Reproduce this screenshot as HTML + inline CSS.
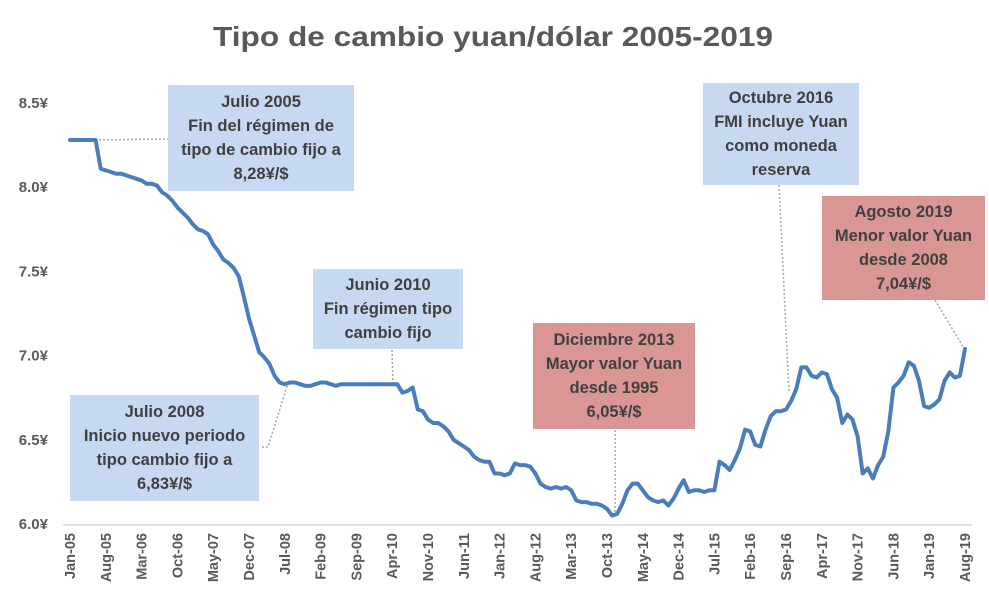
<!DOCTYPE html>
<html><head><meta charset="utf-8">
<style>
html,body{margin:0;padding:0;background:#fff;}
body{width:989px;height:614px;overflow:hidden;font-family:"Liberation Sans",sans-serif;}
.box{position:absolute;text-align:center;font-weight:bold;color:#404040;font-size:16.5px;line-height:24px;display:flex;flex-direction:column;justify-content:center;}
.blue{background:#c6d9f0;}
.red{background:#d99694;}
</style></head>
<body>
<svg id="chart" width="989" height="614" style="position:absolute;left:0;top:0">
<text x="493" y="46" text-anchor="middle" font-size="28" font-weight="bold" fill="#595959" textLength="560" lengthAdjust="spacingAndGlyphs">Tipo de cambio yuan/dólar 2005-2019</text>
<g id="yaxis"></g>
<g id="xaxis"></g>
<g id="connectors" stroke="#a6a6a6" stroke-width="1.5" stroke-dasharray="2,2" fill="none">
<polyline points="95,140 168,139"/>
<polyline points="262,447 268,447 288,383"/>
<polyline points="392,350 393,385"/>
<polyline points="615,430 615,515"/>
<polyline points="779,185 789,392"/>
<polyline points="935,300 965,350"/>
</g>
<g id="series"></g>
</svg>

<div class="box blue" style="left:168px;top:85px;width:186px;height:106px"><div>Julio 2005</div><div>Fin del régimen de</div><div>tipo de cambio fijo a</div><div>8,28¥/$</div></div>
<div class="box blue" style="left:70px;top:395px;width:189px;height:106px"><div>Julio 2008</div><div>Inicio nuevo periodo</div><div>tipo cambio fijo a</div><div>6,83¥/$</div></div>
<div class="box blue" style="left:313px;top:269px;width:150px;height:80px"><div>Junio 2010</div><div>Fin régimen tipo</div><div>cambio fijo</div></div>
<div class="box red" style="left:533px;top:323px;width:162px;height:106px"><div>Diciembre 2013</div><div>Mayor valor Yuan</div><div>desde 1995</div><div>6,05¥/$</div></div>
<div class="box blue" style="left:703px;top:83px;width:156px;height:102px"><div>Octubre 2016</div><div>FMI incluye Yuan</div><div>como moneda</div><div>reserva</div></div>
<div class="box red" style="left:822px;top:196px;width:163px;height:104px"><div>Agosto 2019</div><div>Menor valor Yuan</div><div>desde 2008</div><div>7,04¥/$</div></div>

<script>
const monthNames = ["Jan","Feb","Mar","Apr","May","Jun","Jul","Aug","Sep","Oct","Nov","Dec"];
const startYear = 2005;
const rates2005_2008 = [8.28,8.28,8.28,8.28,8.28,8.28,8.11,8.10,8.09,8.08,8.08,8.07,
 8.06,8.05,8.04,8.02,8.02,8.01,7.97,7.95,7.92,7.88,7.85,7.82,
 7.78,7.75,7.74,7.72,7.66,7.62,7.57,7.55,7.52,7.47,7.35,7.22,
 7.12,7.02,6.99,6.95,6.88,6.84,6.83,6.84,6.84,6.83,6.82,6.82];
const rates2009_2012 = [6.83,6.84,6.84,6.83,6.82,6.83,6.83,6.83,6.83,6.83,6.83,6.83,
 6.83,6.83,6.83,6.83,6.83,6.78,6.79,6.81,6.68,6.67,6.62,6.60,
 6.60,6.58,6.55,6.50,6.48,6.46,6.44,6.40,6.38,6.37,6.37,6.30,
 6.30,6.29,6.30,6.36,6.35,6.35,6.34,6.30,6.24,6.22,6.21,6.22];
const rates2013_2016 = [6.21,6.22,6.20,6.14,6.13,6.13,6.12,6.12,6.11,6.09,6.05,6.06,
 6.12,6.20,6.24,6.24,6.20,6.16,6.14,6.13,6.14,6.11,6.15,6.21,
 6.26,6.19,6.20,6.20,6.19,6.20,6.20,6.37,6.35,6.32,6.38,6.45,
 6.56,6.55,6.47,6.46,6.56,6.64,6.67,6.67,6.68,6.73,6.80,6.93];
const rates2017_2019 = [6.93,6.88,6.87,6.90,6.89,6.80,6.75,6.60,6.65,6.62,6.52,6.30,
 6.33,6.27,6.35,6.40,6.55,6.81,6.84,6.88,6.96,6.94,6.85,6.70,
 6.69,6.71,6.74,6.85,6.90,6.87,6.88,7.04];
const yTicks = [6.0,6.5,7.0,7.5,8.0,8.5];
const yTickLabels = ["6.0¥","6.5¥","7.0¥","7.5¥","8.0¥","8.5¥"];
const labelStep = 7;

const rates = rates2005_2008.concat(rates2009_2012, rates2013_2016, rates2017_2019);
const NS = "http://www.w3.org/2000/svg";
const x0 = 70, x1 = 965, yBase = 524, yTop = 103;
function xScale(i){ return x0 + (x1 - x0) * i / (rates.length - 1); }
function yScale(v){ return yBase - (v - 6.0) / 2.5 * (yBase - yTop); }

const yg = document.getElementById('yaxis');
yTicks.forEach((t,k)=>{
  const tx = document.createElementNS(NS,'text');
  tx.setAttribute('x', 48); tx.setAttribute('y', yScale(t) + 5);
  tx.setAttribute('text-anchor','end'); tx.setAttribute('font-size','15'); tx.setAttribute('font-weight','bold'); tx.setAttribute('fill','#595959');
  tx.textContent = yTickLabels[k];
  
  
  yg.appendChild(tx);
});

const xg = document.getElementById('xaxis');
const ax = document.createElementNS(NS,'line');
ax.setAttribute('x1', 63); ax.setAttribute('x2', 972);
ax.setAttribute('y1', yBase + 1); ax.setAttribute('y2', yBase + 1);
ax.setAttribute('stroke','#d9d9d9'); ax.setAttribute('stroke-width','1.5');


xg.appendChild(ax);
for (let i = 0; i < rates.length; i += labelStep) {
  const m = i % 12, y = startYear + Math.floor(i / 12);
  const lbl = monthNames[m] + "-" + String(y).slice(2);
  const tx = document.createElementNS(NS,'text');
  const x = xScale(i) + 5, yy = 533;
  tx.setAttribute('x', x); tx.setAttribute('y', yy);
  tx.setAttribute('transform', `rotate(-90 ${x} ${yy})`);
  tx.setAttribute('text-anchor','end'); tx.setAttribute('font-size','14.5'); tx.setAttribute('font-weight','bold'); tx.setAttribute('fill','#595959');
  tx.textContent = lbl;
  
  
  xg.appendChild(tx);
}

const sg = document.getElementById('series');
const pl = document.createElementNS(NS,'polyline');
pl.setAttribute('points', rates.map((v,i)=>xScale(i).toFixed(1)+','+yScale(v).toFixed(1)).join(' '));
pl.setAttribute('fill','none'); pl.setAttribute('stroke','#4a7ebb'); pl.setAttribute('stroke-width','4');
pl.setAttribute('stroke-linejoin','round'); pl.setAttribute('stroke-linecap','round');


sg.appendChild(pl);
</script>
</body></html>
